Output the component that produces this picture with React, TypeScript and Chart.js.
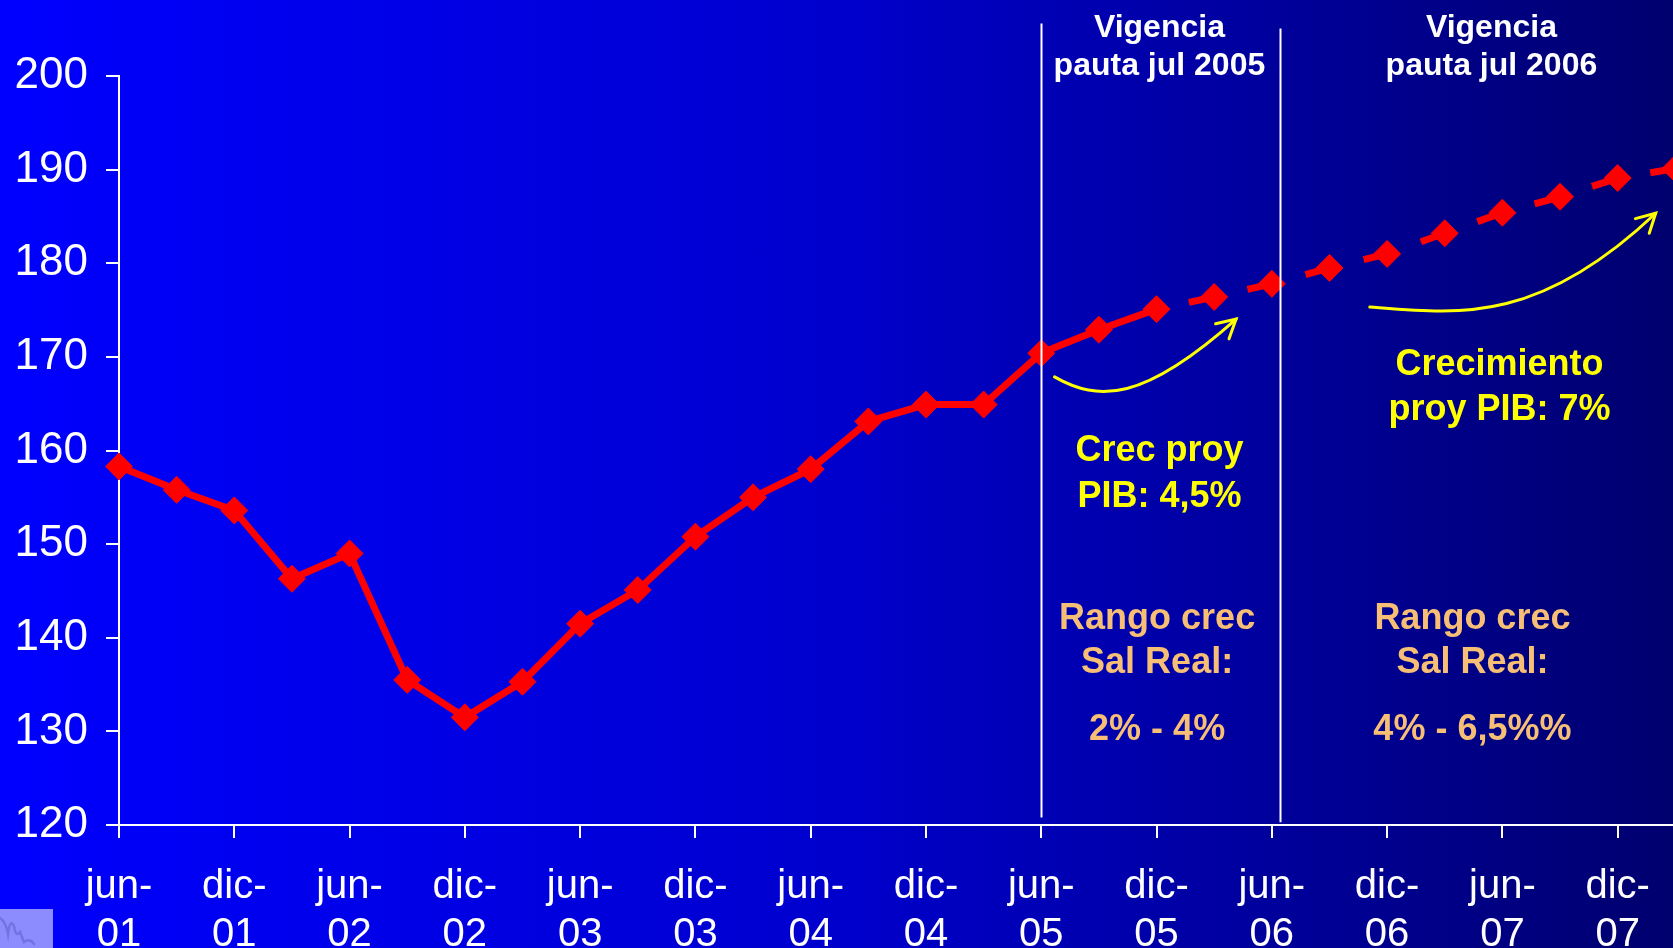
import React, { useEffect, useRef } from 'react';
import { Chart, registerables } from 'chart.js';

Chart.register(...registerables);

// ---------- data ----------
const quarters = [
  'jun-01', 'sep-01', 'dic-01', 'mar-02', 'jun-02', 'sep-02', 'dic-02', 'mar-03',
  'jun-03', 'sep-03', 'dic-03', 'mar-04', 'jun-04', 'sep-04', 'dic-04', 'mar-05',
  'jun-05', 'sep-05', 'dic-05', 'mar-06', 'jun-06', 'sep-06', 'dic-06', 'mar-07',
  'jun-07', 'sep-07', 'dic-07', 'mar-08',
];
const salarioReal = [
  158.3, 155.8, 153.6, 146.3, 149.0, 135.5, 131.5, 135.3,
  141.5, 145.1, 150.8, 155.0, 158.0, 163.1, 164.9, 164.9,
  170.4, 172.9, 175.1, 176.4, 177.8, 179.5, 181.0, 183.2,
  185.4, 187.1, 189.1, 190.1,
];
const projectionStartLabel = 'dic-05';
const xTickLabels = [
  'jun-01', 'dic-01', 'jun-02', 'dic-02', 'jun-03', 'dic-03', 'jun-04',
  'dic-04', 'jun-05', 'dic-05', 'jun-06', 'dic-06', 'jun-07', 'dic-07',
];
const yMin = 120;
const yMax = 200;
const yStep = 10;
const xVisibleMax = 26.96;

// ---------- annotations (in data units: x = quarter index, y = index value) ----------
const dividers = [
  { x: 16.0, top: 205.6, bottom: 120.8 },
  { x: 20.15, top: 205.07, bottom: 120.3 },
];
const headerTexts = [
  { x: 18.05, lines: ['Vigencia', 'pauta jul 2005'] },
  { x: 23.81, lines: ['Vigencia', 'pauta jul 2006'] },
];
const headerBaselines = [204.21, 200.16];
const gdpTexts = [
  { x: 18.05, lines: ['Crec proy', 'PIB: 4,5%'], baselines: [158.83, 153.97] },
  { x: 23.95, lines: ['Crecimiento', 'proy PIB: 7%'], baselines: [168.07, 163.27] },
];
const rangeTexts = [
  { x: 18.01, lines: ['Rango crec', 'Sal Real:', '2% - 4%'] },
  { x: 23.48, lines: ['Rango crec', 'Sal Real:', '4% - 6,5%%'] },
];
const rangeBaselines = [140.96, 136.27, 129.08];
const arrows = [
  [[16.23, 167.86], [16.99, 165.19], [17.77, 165.19], [19.38, 174.04]],
  [[21.70, 175.32], [23.23, 174.57], [24.61, 173.4], [26.66, 185.34]],
];

const FONT = '"Liberation Sans", Arial, Helvetica, sans-serif';

const overlayPlugin = {
  id: 'overlay',
  afterDatasetsDraw(chart: any) {
    const { ctx } = chart;
    const xs = chart.scales.x;
    const ys = chart.scales.y;
    const px = (v: number) => xs.getPixelForValue(v);
    const py = (v: number) => ys.getPixelForValue(v);
    ctx.save();

    // divider lines
    ctx.strokeStyle = '#FFFFFF';
    ctx.lineWidth = 2;
    for (const d of dividers) {
      const x = Math.round(px(d.x)) + 0.5;
      ctx.beginPath();
      ctx.moveTo(x, py(d.top));
      ctx.lineTo(x, py(d.bottom));
      ctx.stroke();
    }

    // yellow arrows
    ctx.strokeStyle = '#FFFF00';
    ctx.lineWidth = 3;
    ctx.lineCap = 'round';
    for (const a of arrows) {
      const p = a.map(([x, y]) => [px(x), py(y)]);
      ctx.beginPath();
      ctx.moveTo(p[0][0], p[0][1]);
      ctx.bezierCurveTo(p[1][0], p[1][1], p[2][0], p[2][1], p[3][0], p[3][1]);
      ctx.stroke();
      const ang = Math.atan2(p[2][1] - p[3][1], p[2][0] - p[3][0]);
      const len = 21;
      const spread = 0.5;
      ctx.beginPath();
      ctx.moveTo(p[3][0] + Math.cos(ang - spread) * len, p[3][1] + Math.sin(ang - spread) * len);
      ctx.lineTo(p[3][0], p[3][1]);
      ctx.lineTo(p[3][0] + Math.cos(ang + spread) * len, p[3][1] + Math.sin(ang + spread) * len);
      ctx.stroke();
    }

    // texts
    ctx.textAlign = 'center';
    ctx.textBaseline = 'alphabetic';
    ctx.fillStyle = '#FFFFFF';
    ctx.font = `bold 32px ${FONT}`;
    for (const t of headerTexts) {
      t.lines.forEach((s, i) => ctx.fillText(s, px(t.x), py(headerBaselines[i])));
    }
    ctx.fillStyle = '#FFFF00';
    ctx.font = `bold 36px ${FONT}`;
    for (const t of gdpTexts) {
      t.lines.forEach((s, i) => ctx.fillText(s, px(t.x), py(t.baselines[i])));
    }
    ctx.fillStyle = 'rgb(247,190,118)';
    for (const t of rangeTexts) {
      t.lines.forEach((s, i) => ctx.fillText(s, px(t.x), py(rangeBaselines[i])));
    }

    // small logo in bottom-left corner
    const H = chart.height;
    ctx.fillStyle = 'rgb(140,140,255)';
    ctx.fillRect(0, H - 39, 53, 39);
    ctx.strokeStyle = 'rgb(115,115,225)';
    ctx.lineWidth = 2.5;
    ctx.lineCap = 'round';
    ctx.beginPath();
    ctx.moveTo(0, H - 30);
    ctx.quadraticCurveTo(6, H - 26, 8, H - 14);
    ctx.quadraticCurveTo(10, H - 30, 14, H - 22);
    ctx.quadraticCurveTo(16, H - 10, 20, H - 16);
    ctx.lineTo(24, H - 6);
    ctx.quadraticCurveTo(30, H - 10, 34, H - 4);
    ctx.stroke();

    ctx.restore();
  },
};

export default function App() {
  const canvasRef = useRef<HTMLCanvasElement | null>(null);

  useEffect(() => {
    const canvas = canvasRef.current;
    if (!canvas) return;
    const projIdx = quarters.indexOf(projectionStartLabel);
    const tickIdx = xTickLabels.map((l) => quarters.indexOf(l));
    const chart = new Chart(canvas, {
      type: 'line',
      data: {
        datasets: [
          {
            label: 'Salario real',
            data: quarters.map((q, i) => ({ x: i, y: salarioReal[i] })),
            borderColor: '#FF0000',
            borderWidth: 7,
            pointStyle: 'rectRot',
            pointRadius: 13.5,
            pointBorderWidth: 1,
            pointBackgroundColor: '#FF0000',
            pointBorderColor: '#FF0000',
            tension: 0,
            fill: false,
            clip: false,
            segment: {
              borderDash: (c: any) => (c.p0DataIndex >= projIdx ? [27, 33] : []),
              borderDashOffset: (c: any) => (c.p0DataIndex >= projIdx ? 27 : 0),
            },
          } as any,
        ],
      },
      options: {
        responsive: false,
        animation: false,
        layout: { autoPadding: false, padding: { top: 76, left: 0, right: 0, bottom: 0 } },
        plugins: { legend: { display: false }, tooltip: { enabled: false } },
        scales: {
          x: {
            type: 'linear',
            min: 0,
            max: xVisibleMax,
            afterBuildTicks: (s: any) => {
              s.ticks = tickIdx.map((v) => ({ value: v }));
            },
            afterFit: (s: any) => {
              s.height = 123;
              s.paddingLeft = 0;
              s.paddingRight = 0;
            },
            ticks: {
              autoSkip: false,
              maxRotation: 0,
              color: '#FFFFFF',
              padding: 25,
              font: { family: FONT, size: 40, lineHeight: 1.2 },
              callback: (v: any) => {
                const i = tickIdx.indexOf(Number(v));
                if (i < 0) return '';
                const [m, yy] = xTickLabels[i].split('-');
                return [m + '-', yy];
              },
            },
            grid: {
              drawOnChartArea: false,
              drawTicks: true,
              tickLength: 13,
              color: '#FFFFFF',
              lineWidth: 2,
            },
            border: { display: true, color: '#FFFFFF', width: 2 },
          },
          y: {
            min: yMin,
            max: yMax,
            afterFit: (s: any) => {
              s.width = 119;
              s.paddingTop = 0;
              s.paddingBottom = 0;
            },
            ticks: {
              stepSize: yStep,
              color: '#FFFFFF',
              padding: 18,
              font: { family: FONT, size: 44 },
            },
            grid: {
              drawOnChartArea: false,
              drawTicks: true,
              tickLength: 13,
              color: '#FFFFFF',
              lineWidth: 2,
            },
            border: { display: true, color: '#FFFFFF', width: 2 },
          },
        },
      },
      plugins: [overlayPlugin],
    });
    return () => chart.destroy();
  }, []);

  return (
    <div
      style={{
        position: 'fixed',
        left: 0,
        top: 0,
        width: '1673px',
        height: '948px',
        overflow: 'hidden',
        background: 'linear-gradient(to right, rgb(0,0,255) 0%, rgb(0,0,205) 50%, rgb(0,0,110) 100%)',
      }}
    >
      <canvas ref={canvasRef} width={1673} height={948} style={{ display: 'block' }} />
    </div>
  );
}
